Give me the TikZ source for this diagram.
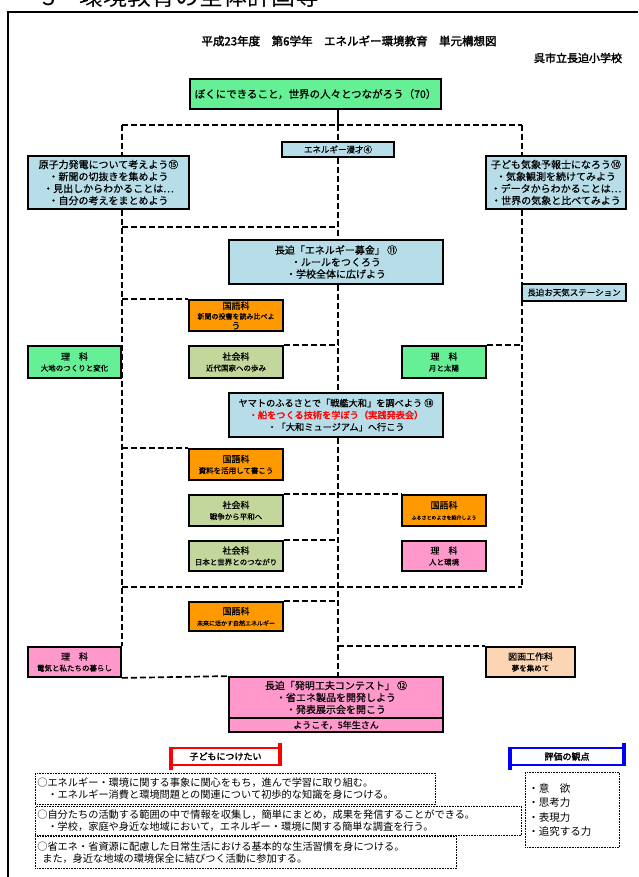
\documentclass[tikz,border=0pt]{standalone}
\usepackage{fontspec}
\setmainfont{Noto Sans CJK JP}[AutoFakeBold=2.5]
\newfontfamily\boxfont{Noto Sans CJK JP}[FakeBold=0.6]
\newfontfamily\heavyfont{Noto Sans CJK JP}[FakeBold=2.2]
\definecolor{goalgreen}{RGB}{102,240,150}
\definecolor{plainblue}{RGB}{183,222,232}
\definecolor{kokugoorange}{RGB}{255,153,0}
\definecolor{shakaiolive}{RGB}{195,214,155}
\definecolor{rikapink}{RGB}{255,153,204}
\definecolor{zugapeach}{RGB}{252,213,180}
\newcommand{\fs}[2]{\fontsize{#1}{#2}\selectfont}
\begin{document}
\begin{tikzpicture}[x=1pt,y=-1pt,
	box/.style={draw,line width=1.8pt,align=center,inner sep=0pt,execute at begin node=\boxfont},
	link/.style={line width=1.7pt,dash pattern=on 6pt off 3pt},
	note/.style={draw,densely dotted,line width=0.6pt,align=left,anchor=north west,inner sep=2pt},
	tag/.style={draw=#1,line width=2.5pt,fill=white,inner sep=0pt,font=\fs{9}{10}\heavyfont}]
\useasboundingbox (0,0) rectangle (638,877);
\draw[line width=1.5pt] (8,877) -- (8,12) -- (638,12);
\node[anchor=base west,inner sep=0pt,font=\fs{24}{24}] (head) at (42,6) {3　環境教育の全体計画等};
\node[font=\fs{11.5}{12}\heavyfont] (title) at (349,41) {平成23年度　第6学年　エネルギー環境教育　単元構想図};
\node[font=\fs{11}{12}\heavyfont] (school) at (578,58) {呉市立長迫小学校};
% junctions of the dashed lines
\coordinate (ct) at (338,125);
\coordinate (lt) at (122,125);
\coordinate (rt) at (522,125);
\coordinate (lm) at (122,227);
\coordinate (lb) at (122,587);
\coordinate (rb) at (522,587);
% boxes
\node[box,fill=goalgreen,minimum width=251,minimum height=30,font=\fs{10.5}{12}] (goal) at (315.5,94) {ぼくにできること，世界の人々とつながろう（70）};
\node[box,fill=plainblue,minimum width=112,minimum height=15,font=\fs{8.5}{10}] (manzai) at (338,149.5) {エネルギー漫才④};
\node[box,fill=plainblue,minimum width=161,minimum height=53,font=\fs{10}{12}] (genshi) at (108.5,182.5) {原子力発電について考えよう⑮\\・新聞の切抜きを集めよう\\・見出しからわかることは…\\・自分の考えをまとめよう};
\node[box,fill=plainblue,minimum width=140,minimum height=53,font=\fs{10}{12}] (kisho) at (556,182.5) {子ども気象予報士になろう⑩\\・気象観測を続けてみよう\\・データからわかることは…\\・世界の気象と比べてみよう};
\node[box,fill=plainblue,minimum width=214,minimum height=44,font=\fs{10}{12}] (bokin) at (336,262) {長迫「エネルギー募金」 ⑪\\・ルールをつくろう\\・学校全体に広げよう};
\node[box,fill=plainblue,minimum width=104,minimum height=17,font=\fs{8.5}{10}] (tenki) at (574,292.5) {長迫お天気ステーション};
\node[box,fill=kokugoorange,minimum width=94,minimum height=31,font=\fs{9}{10}] (kokugoA) at (236,315.5) {国語科\\\fs{7}{8}新聞の投書を読み比べよ\\う};
\node[box,fill=goalgreen,minimum width=93,minimum height=32,font=\fs{9}{11}] (rikaA) at (74.5,362) {理　科\\\fs{7.5}{9}大地のつくりと変化};
\node[box,fill=shakaiolive,minimum width=94,minimum height=32,font=\fs{9}{11}] (shakaiA) at (236,362) {社会科\\\fs{7.5}{9}近代国家への歩み};
\node[box,fill=goalgreen,minimum width=84,minimum height=32,font=\fs{9}{11}] (rikaB) at (444,362) {理　科\\\fs{7.5}{9}月と太陽};
\node[box,fill=plainblue,minimum width=214,minimum height=44,font=\fs{9.2}{12}] (yamato) at (336,415) {ヤマトのふるさとで「戦艦大和」を調べよう ⑱\\\color{red}\heavyfont ・船をつくる技術を学ぼう（実践発表会）\\\color{black}\boxfont ・「大和ミュージアム」へ行こう};
\node[box,fill=kokugoorange,minimum width=94,minimum height=31,font=\fs{9}{11}] (kokugoB) at (236,464.5) {国語科\\\fs{7.5}{9}資料を活用して書こう};
\node[box,fill=shakaiolive,minimum width=94,minimum height=31,font=\fs{9}{11}] (shakaiB) at (236,510.5) {社会科\\\fs{7.5}{9}戦争から平和へ};
\node[box,fill=kokugoorange,minimum width=84,minimum height=31,font=\fs{9}{11}] (kokugoC) at (444,510.5) {国語科\\\fs{5}{8}ふるさとのよさを紹介しよう};
\node[box,fill=shakaiolive,minimum width=94,minimum height=30,font=\fs{9}{11}] (shakaiC) at (236,556) {社会科\\\fs{7.5}{9}日本と世界とのつながり};
\node[box,fill=rikapink,minimum width=84,minimum height=30,font=\fs{9}{11}] (rikaC) at (444,556) {理　科\\\fs{7.5}{9}人と環境};
\node[box,fill=kokugoorange,minimum width=94,minimum height=29,font=\fs{9}{11}] (kokugoD) at (236,616.5) {国語科\\\fs{6}{8}未来に活かす自然エネルギー};
\node[box,fill=rikapink,minimum width=93,minimum height=30,font=\fs{9}{11}] (rikaD) at (74.5,662) {理　科\\\fs{7.5}{9}電気と私たちの暮らし};
\node[box,fill=zugapeach,minimum width=89,minimum height=30,font=\fs{9}{11}] (zuga) at (530.5,662) {図画工作科\\\fs{7.5}{9}夢を集めて};
\node[box,fill=rikapink,minimum width=214,minimum height=41,font=\fs{10}{12}] (contest) at (336,697.5) {長迫「発明工夫コンテスト」 ⑫\\・省エネ製品を開発しよう\\・発表展示会を開こう};
\node[box,fill=rikapink,minimum width=214,minimum height=14,font=\fs{9}{10}] (welcome) at (336,725) {ようこそ，5年生さん};
% dashed links
\draw[line width=1.6pt] (goal.south -| ct) -- (ct);
\draw[link] (lt) -- (rt);
\draw[link] (lt) -- (lt |- genshi.north);
\draw[link] (rt) -- (rt |- kisho.north);
\draw[link] (ct) -- (ct |- manzai.north);
\draw[link] (ct |- manzai.south) -- (ct |- bokin.north);
\draw[link] (ct |- bokin.south) -- (ct |- yamato.north);
\draw[link] (ct |- yamato.south) -- (ct |- contest.north);
\draw[link] (lt |- genshi.south) -- (lt |- rikaD.north);
\draw[link] (rt |- kisho.south) -- (rb);
\draw[link] (lm) -- (lm -| ct);
\draw[link] (lb) -- (rb);
\draw[link] (lt |- kokugoA.north) -- (kokugoA.north west);
\draw[link] (shakaiA.north east) -- (shakaiA.north east -| ct);
\draw[link] (rikaB.north east) -- (rikaB.north east -| rt);
\draw[link] (lt |- kokugoB.north) -- (kokugoB.north west);
\draw[link] (shakaiB.north east) -- (kokugoC.north west);
\draw[link] (shakaiC.north east) -- (shakaiC.north east -| ct);
\draw[link] (kokugoD.north east) -- (kokugoD.north east -| ct);
\draw[link] (zuga.north west -| ct) -- (zuga.north west);
\draw[link] (rikaD.south east) -- (contest.north west);
% bottom notes
\node[tag=red,minimum width=107,minimum height=17] (kidsTag) at (225.5,756.5) {子どもにつけたい};
\draw[red,line width=4pt] ([yshift=-4pt]kidsTag.south west) -- (kidsTag.north west);
\draw[red,line width=4pt] (kidsTag.south east) -- ([yshift=4pt]kidsTag.north east);
\node[tag=blue,minimum width=112,minimum height=17] (evalTag) at (567,756.5) {評価の観点};
\draw[blue,line width=4pt] ([yshift=-4pt]evalTag.south west) -- (evalTag.north west);
\draw[blue,line width=4pt] (evalTag.south east) -- ([yshift=4pt]evalTag.north east);
\node[note,text width=396,minimum height=31,font=\fs{10.2}{12}] (aimA) at (35,773) {○エネルギー・環境に関する事象に関心をもち，進んで学習に取り組む。\\　・エネルギー消費と環境問題との関連について初歩的な知識を身につける。};
\node[note,text width=482,minimum height=29,font=\fs{10.2}{12}] (aimB) at (35,806) {○自分たちの活動する範囲の中で情報を収集し，簡単にまとめ，成果を発信することができる。\\　・学校，家庭や身近な地域において，エネルギー・環境に関する簡単な調査を行う。};
\node[note,text width=417,minimum height=32,font=\fs{10.2}{12}] (aimC) at (35,836) {○省エネ・省資源に配慮した日常生活における基本的な生活習慣を身につける。\\\hspace{5pt}また，身近な地域の環境保全に結びつく活動に参加する。};
\node[note,text width=88,minimum height=75,inner sep=3pt,font=\fs{10.5}{14.5}] (evalNote) at (525,772) {・意　欲\\・思考力\\・表現力\\・追究する力};
\end{tikzpicture}
\end{document}
